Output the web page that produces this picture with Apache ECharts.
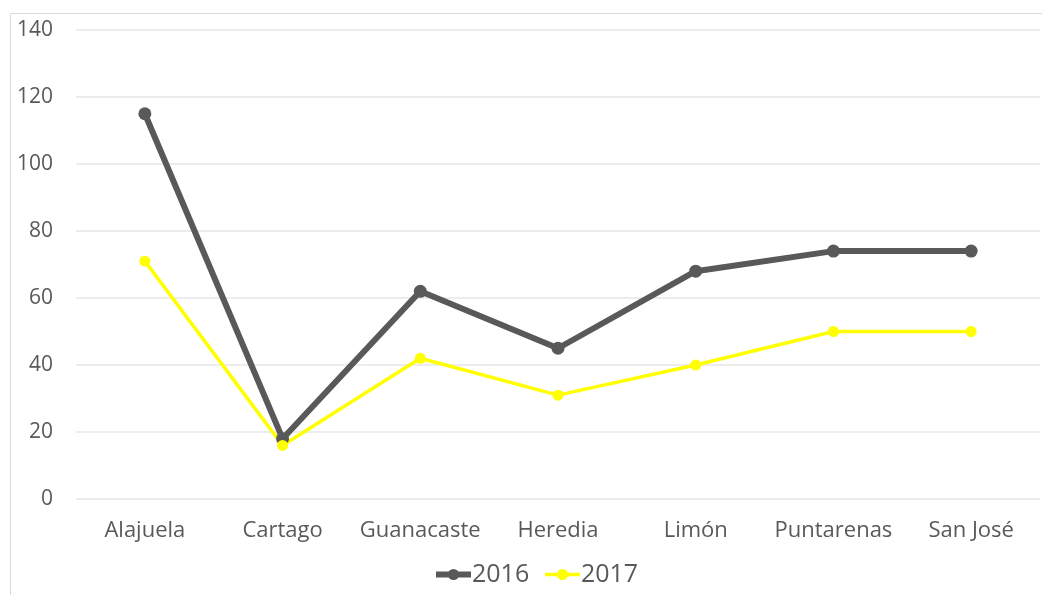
<!DOCTYPE html>
<html><head><meta charset="utf-8">
<script src="https://cdn.jsdelivr.net/npm/echarts@6/dist/echarts.min.js"></script>
<style>html,body{margin:0;padding:0;background:#fff}#c{width:1042px;height:595px}</style>
</head><body><div id="c"></div>
<script>
const categories = ['Alajuela','Cartago','Guanacaste','Heredia','Limón','Puntarenas','San José'];
const values2016 = [115, 18, 62, 45, 68, 74, 74];
const values2017 = [71, 16, 42, 31, 40, 50, 50];
const yTicks = {min: 0, max: 140, interval: 20};

const chart = echarts.init(document.getElementById('c'));
chart.setOption({
  backgroundColor: '#fff',
  animation: false,
  textStyle: {fontFamily: 'Open Sans'},
  graphic: [{type: 'rect', left: 8, top: 11, shape: {width: 1060, height: 600}, style: {fill: 'none', stroke: '#d9d9d9', lineWidth: 1}, silent: true}],
  grid: {left: 76, right: 2, top: 30, bottom: 96},
  legend: {
    bottom: 3, left: 428, itemWidth: 35, itemHeight: 14, itemGap: 14,
    textStyle: {fontSize: 25, color: '#595959', fontFamily: 'Open Sans', padding: [0, 0, 0, -4]},
    data: [
      {name: '2016', lineStyle: {width: 6, color: '#595959'}},
      {name: '2017', lineStyle: {width: 3.5, color: '#ffff00'}}
    ]
  },
  xAxis: {
    type: 'category', data: categories,
    axisLine: {show: false}, axisTick: {show: false},
    axisLabel: {fontSize: 22, color: '#595959', margin: 21, interval: 0}
  },
  yAxis: {
    type: 'value', min: yTicks.min, max: yTicks.max, interval: yTicks.interval,
    axisLine: {show: false}, axisTick: {show: false},
    axisLabel: {fontSize: 21, color: '#595959', margin: 23},
    splitLine: {lineStyle: {color: '#e6e6e6', width: 1.5}}
  },
  series: [
    {name: '2016', type: 'line', data: values2016, symbol: 'circle', symbolSize: 13,
     lineStyle: {color: '#595959', width: 6}, itemStyle: {color: '#595959'}},
    {name: '2017', type: 'line', data: values2017, symbol: 'circle', symbolSize: 11,
     lineStyle: {color: '#ffff00', width: 3.5}, itemStyle: {color: '#ffff00'}}
  ]
});
</script></body></html>
